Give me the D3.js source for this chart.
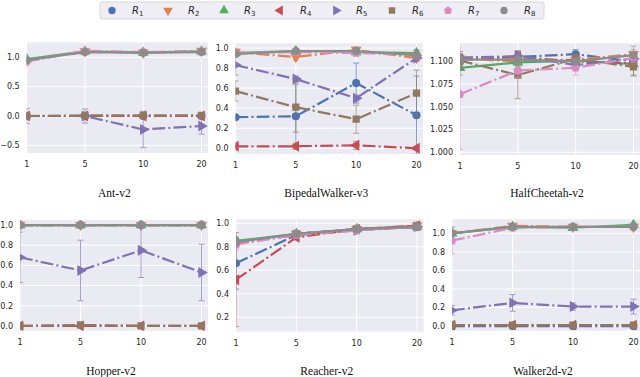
<!DOCTYPE html>
<html>
<head>
<meta charset="utf-8">
<script src="https://cdn.jsdelivr.net/npm/d3@7"></script>
<style>
  body { margin: 0; background: #fff; }
  svg { display: block; }
</style>
</head>
<body>
<div id="chart"></div>
<script>
var width = 640;
var height = 377;

// x categories shared by every panel
var xCats = [1, 5, 10, 20];
var seriesNames = ["1", "2", "3", "4", "5", "6", "7", "8"];
var colors = ["#4C72B0", "#DD8452", "#55A868", "#C44E52", "#8172B3", "#937860", "#DA8BC3", "#8C8C8C"];

// means, one row per series R1..R8
var antMean = [
  [0.00, 0.00, 0.00, 0.00],
  [0.94, 1.10, 1.08, 1.11],
  [0.97, 1.10, 1.08, 1.10],
  [0.00, 0.00, 0.00, 0.00],
  [0.00, 0.00, -0.23, -0.17],
  [0.00, 0.01, 0.01, 0.01],
  [0.93, 1.11, 1.09, 1.10],
  [0.95, 1.09, 1.08, 1.09]
];
var antErr = [
  [0.02, 0.02, 0.02, 0.02],
  [0.03, 0.02, 0.02, 0.03],
  [0.02, 0.02, 0.02, 0.02],
  [0.02, 0.02, 0.02, 0.02],
  [0.13, 0.12, 0.31, 0.14],
  [0.03, 0.03, 0.03, 0.03],
  [0.03, 0.02, 0.02, 0.02],
  [0.02, 0.02, 0.02, 0.02]
];

var bipedalMean = [
  [0.31, 0.32, 0.65, 0.33],
  [0.96, 0.91, 0.98, 0.90],
  [0.95, 0.97, 0.96, 0.95],
  [0.02, 0.02, 0.03, 0.00],
  [0.83, 0.69, 0.50, 0.90],
  [0.57, 0.41, 0.29, 0.55],
  [0.95, 0.96, 0.95, 0.93],
  [0.94, 0.97, 0.97, 0.93]
];
var bipedalErr = [
  [0.02, 0.32, 0.20, 0.39],
  [0.03, 0.03, 0.03, 0.03],
  [0.02, 0.02, 0.02, 0.03],
  [0.02, 0.03, 0.04, 0.01],
  [0.10, 0.03, 0.03, 0.03],
  [0.10, 0.25, 0.14, 0.23],
  [0.03, 0.03, 0.03, 0.03],
  [0.02, 0.02, 0.02, 0.05]
];

var cheetahMean = [
  [1.104, 1.105, 1.108, 1.100],
  [1.103, 1.100, 1.102, 1.108],
  [1.093, 1.099, 1.101, 1.097],
  [1.102, 1.105, 1.100, 1.098],
  [1.104, 1.106, 1.096, 1.103],
  [1.101, 1.085, 1.103, 1.094],
  [1.064, 1.090, 1.093, 1.104],
  [1.102, 1.102, 1.100, 1.107]
];
var cheetahErr = [
  [0.004, 0.006, 0.005, 0.004],
  [0.006, 0.005, 0.005, 0.005],
  [0.008, 0.005, 0.004, 0.012],
  [0.005, 0.004, 0.004, 0.004],
  [0.004, 0.006, 0.004, 0.004],
  [0.010, 0.026, 0.005, 0.010],
  [0.061, 0.008, 0.008, 0.005],
  [0.006, 0.006, 0.004, 0.010]
];

var hopperMean = [
  [1.00, 1.00, 1.00, 1.00],
  [1.00, 1.00, 1.00, 1.00],
  [1.00, 1.00, 1.00, 1.00],
  [0.00, 0.00, 0.00, 0.00],
  [0.68, 0.55, 0.75, 0.53],
  [0.00, 0.01, 0.00, 0.00],
  [1.00, 1.00, 1.00, 1.00],
  [1.00, 1.00, 1.00, 1.00]
];
var hopperErr = [
  [0.00, 0.00, 0.00, 0.00],
  [0.01, 0.01, 0.01, 0.01],
  [0.01, 0.01, 0.01, 0.01],
  [0.00, 0.00, 0.00, 0.00],
  [0.25, 0.30, 0.27, 0.28],
  [0.01, 0.01, 0.01, 0.01],
  [0.00, 0.00, 0.00, 0.00],
  [0.00, 0.00, 0.00, 0.00]
];

var reacherMean = [
  [0.66, 0.90, 0.95, 0.97],
  [0.83, 0.91, 0.95, 0.98],
  [0.85, 0.91, 0.95, 0.97],
  [0.52, 0.88, 0.95, 0.98],
  [0.83, 0.90, 0.94, 0.97],
  [0.83, 0.91, 0.95, 0.97],
  [0.82, 0.90, 0.94, 0.97],
  [0.84, 0.91, 0.95, 0.97]
];
var reacherErr = [
  [0.22, 0.01, 0.01, 0.01],
  [0.04, 0.01, 0.01, 0.01],
  [0.03, 0.01, 0.01, 0.01],
  [0.40, 0.02, 0.01, 0.01],
  [0.03, 0.01, 0.01, 0.01],
  [0.03, 0.01, 0.01, 0.01],
  [0.05, 0.01, 0.01, 0.01],
  [0.03, 0.01, 0.01, 0.01]
];

var walkerMean = [
  [0.00, 0.00, 0.00, 0.00],
  [1.00, 1.08, 1.07, 1.07],
  [1.00, 1.07, 1.06, 1.09],
  [0.01, 0.01, 0.01, 0.01],
  [0.17, 0.25, 0.21, 0.21],
  [0.01, 0.01, 0.01, 0.01],
  [0.92, 1.06, 1.07, 1.07],
  [1.00, 1.07, 1.07, 1.07]
];
var walkerErr = [
  [0.01, 0.01, 0.01, 0.01],
  [0.07, 0.02, 0.02, 0.02],
  [0.02, 0.02, 0.02, 0.02],
  [0.01, 0.01, 0.01, 0.01],
  [0.05, 0.09, 0.04, 0.08],
  [0.01, 0.01, 0.01, 0.01],
  [0.14, 0.02, 0.02, 0.02],
  [0.02, 0.02, 0.02, 0.02]
];

// panels: box = [left, right, top, bottom] of the grey plotting area
var panels = [
  {title: "Ant-v2", mean: antMean, err: antErr, ylim: [-0.63, 1.256], ticks: [-0.5, 0, 0.5, 1.0], fmt: ".1f", box: [26.7, 208, 42.3, 153]},
  {title: "BipedalWalker-v3", mean: bipedalMean, err: bipedalErr, ylim: [-0.057, 1.047], ticks: [0, 0.2, 0.4, 0.6, 0.8, 1.0], fmt: ".1f", box: [235.5, 423, 43.3, 154]},
  {title: "HalfCheetah-v2", mean: cheetahMean, err: cheetahErr, ylim: [0.997, 1.120], ticks: [1.0, 1.025, 1.05, 1.075, 1.1], fmt: ".3f", box: [460, 640, 43.3, 155]},
  {title: "Hopper-v2", mean: hopperMean, err: hopperErr, ylim: [-0.047, 1.05], ticks: [0, 0.2, 0.4, 0.6, 0.8, 1.0], fmt: ".1f", box: [20, 208, 220, 330.7]},
  {title: "Reacher-v2", mean: reacherMean, err: reacherErr, ylim: [0.077, 1.034], ticks: [0.2, 0.4, 0.6, 0.8, 1.0], fmt: ".1f", box: [236, 423.5, 219.3, 331.7]},
  {title: "Walker2d-v2", mean: walkerMean, err: walkerErr, ylim: [-0.05, 1.151], ticks: [0, 0.2, 0.4, 0.6, 0.8, 1.0], fmt: ".1f", box: [452, 640, 219.3, 330.7]}
];

var dashes = ["12.8,3.2,2,3.2", "12.8,3.2,2,3.2", null, "12.8,3.2,2,3.2", "12.8,3.2,2,3.2", "12.8,3.2,2,3.2", "12.8,3.2,2,3.2", null];

// pentagon for R7
var pentagon = {
  draw: function(context, size) {
    var r = Math.sqrt(size / 2.378);
    for (var i = 0; i < 5; i++) {
      var a = -Math.PI / 2 + i * 2 * Math.PI / 5;
      if (i === 0) context.moveTo(r * Math.cos(a), r * Math.sin(a));
      else context.lineTo(r * Math.cos(a), r * Math.sin(a));
    }
    context.closePath();
  }
};
var markerTypes = [d3.symbolCircle, d3.symbolTriangle, d3.symbolTriangle, d3.symbolTriangle, d3.symbolTriangle, d3.symbolSquare, pentagon, d3.symbolCircle];
var markerRot = [0, 180, 0, -90, 90, 0, 0, 0];

function marker(i, size) {
  return d3.symbol().type(markerTypes[i]).size(size)();
}

var svg = d3.select("#chart")
  .append("svg")
  .attr("width", width)
  .attr("height", height);

svg.append("rect").attr("width", width).attr("height", height).attr("fill", "#fff");

panels.forEach(function(p, pi) {
  var x0 = p.box[0], x1 = p.box[1], y0 = p.box[2], y1 = p.box[3];

  var x = d3.scalePoint()
    .domain(xCats)
    .range([x0, x1 - 6.5]);

  var y = d3.scaleLinear()
    .domain(p.ylim)
    .range([y1, y0]);

  var g = svg.append("g");

  g.append("rect")
    .attr("x", x0).attr("y", y0)
    .attr("width", x1 - x0).attr("height", y1 - y0)
    .attr("fill", "#EAEAF2");

  // grid
  g.selectAll(".hgrid")
    .data(p.ticks)
    .enter()
    .append("line")
    .attr("x1", x0).attr("x2", x1)
    .attr("y1", function(d){ return y(d); })
    .attr("y2", function(d){ return y(d); })
    .attr("stroke", "#fff")
    .attr("stroke-width", 1);

  g.selectAll(".vgrid")
    .data(xCats)
    .enter()
    .append("line")
    .attr("x1", function(d){ return x(d); })
    .attr("x2", function(d){ return x(d); })
    .attr("y1", y0).attr("y2", y1)
    .attr("stroke", "#fff")
    .attr("stroke-width", 1);

  // tick labels
  g.selectAll(".ylab")
    .data(p.ticks)
    .enter()
    .append("text")
    .attr("x", x0 - 7)
    .attr("y", function(d){ return y(d); })
    .attr("dy", "0.35em")
    .attr("text-anchor", "end")
    .attr("font-family", "DejaVu Sans")
    .attr("font-size", 8)
    .attr("fill", "#262626")
    .text(function(d){ return d3.format(p.fmt)(d); });

  g.selectAll(".xlab")
    .data(xCats)
    .enter()
    .append("text")
    .attr("x", function(d){ return x(d); })
    .attr("y", y1 + 14)
    .attr("text-anchor", "middle")
    .attr("font-family", "DejaVu Sans")
    .attr("font-size", 8)
    .attr("fill", "#262626")
    .text(function(d){ return d; });

  g.append("text")
    .attr("x", (x0 + x1) / 2 - 3)
    .attr("y", pi < 3 ? 196.5 : 375)
    .attr("text-anchor", "middle")
    .attr("font-family", "Liberation Serif")
    .attr("font-size", 11.5)
    .attr("fill", "#111")
    .text(p.title);

  // clipped data area
  var clipId = "clip" + pi;
  svg.append("clipPath").attr("id", clipId)
    .append("rect")
    .attr("x", x0).attr("y", y0)
    .attr("width", x1 - x0).attr("height", y1 - y0);

  var dg = g.append("g").attr("clip-path", "url(#" + clipId + ")");

  var line = d3.line()
    .x(function(d){ return x(d.x); })
    .y(function(d){ return y(d.v); });

  p.mean.forEach(function(vals, si) {
    var pts = xCats.map(function(c, k){ return {x: c, v: vals[k], e: p.err[si][k]}; });
    var sg = dg.append("g");

    var eb = sg.selectAll(".eb")
      .data(pts)
      .enter()
      .append("g")
      .attr("stroke", colors[si])
      .attr("stroke-width", 0.9)
      .attr("opacity", 0.75);
    eb.append("line")
      .attr("x1", function(d){ return x(d.x); })
      .attr("x2", function(d){ return x(d.x); })
      .attr("y1", function(d){ return y(d.v - d.e); })
      .attr("y2", function(d){ return y(d.v + d.e); });
    eb.append("line")
      .attr("x1", function(d){ return x(d.x) - 3; })
      .attr("x2", function(d){ return x(d.x) + 3; })
      .attr("y1", function(d){ return y(d.v - d.e); })
      .attr("y2", function(d){ return y(d.v - d.e); });
    eb.append("line")
      .attr("x1", function(d){ return x(d.x) - 3; })
      .attr("x2", function(d){ return x(d.x) + 3; })
      .attr("y1", function(d){ return y(d.v + d.e); })
      .attr("y2", function(d){ return y(d.v + d.e); });

    sg.append("path")
      .datum(pts)
      .attr("d", line)
      .attr("fill", "none")
      .attr("stroke", colors[si])
      .attr("stroke-width", 2.2)
      .attr("stroke-dasharray", dashes[si]);

    sg.selectAll(".mk")
      .data(pts)
      .enter()
      .append("path")
      .attr("d", marker(si, 52))
      .attr("transform", function(d){ return "translate(" + x(d.x) + "," + y(d.v) + ") rotate(" + markerRot[si] + ")"; })
      .attr("fill", colors[si]);
  });
});

// legend
var legendX0 = 100, legendStep = 56;
var lg = svg.append("g");
lg.append("rect")
  .attr("x", legendX0).attr("y", 2)
  .attr("width", legendStep * 8 - 4).attr("height", 17)
  .attr("rx", 2)
  .attr("fill", "#EEEEF4")
  .attr("stroke", "#d0d0d0")
  .attr("stroke-width", 0.8);

var items = lg.selectAll(".item")
  .data(seriesNames)
  .enter()
  .append("g")
  .attr("transform", function(d, i){ return "translate(" + (legendX0 + 12 + i * legendStep) + ",10.5)"; });

items.append("path")
  .attr("d", function(d, i){ return marker(i, 42); })
  .attr("transform", function(d, i){ return "rotate(" + markerRot[i] + ")"; })
  .attr("fill", function(d, i){ return colors[i]; });

var lt = items.append("text")
  .attr("x", 20)
  .attr("y", 3.5)
  .attr("font-family", "DejaVu Sans")
  .attr("font-size", 10)
  .attr("fill", "#262626");
lt.append("tspan").attr("font-style", "italic").text("R");
lt.append("tspan").attr("font-size", 7).attr("dy", 2).text(function(d){ return d; });
</script>
</body>
</html>
